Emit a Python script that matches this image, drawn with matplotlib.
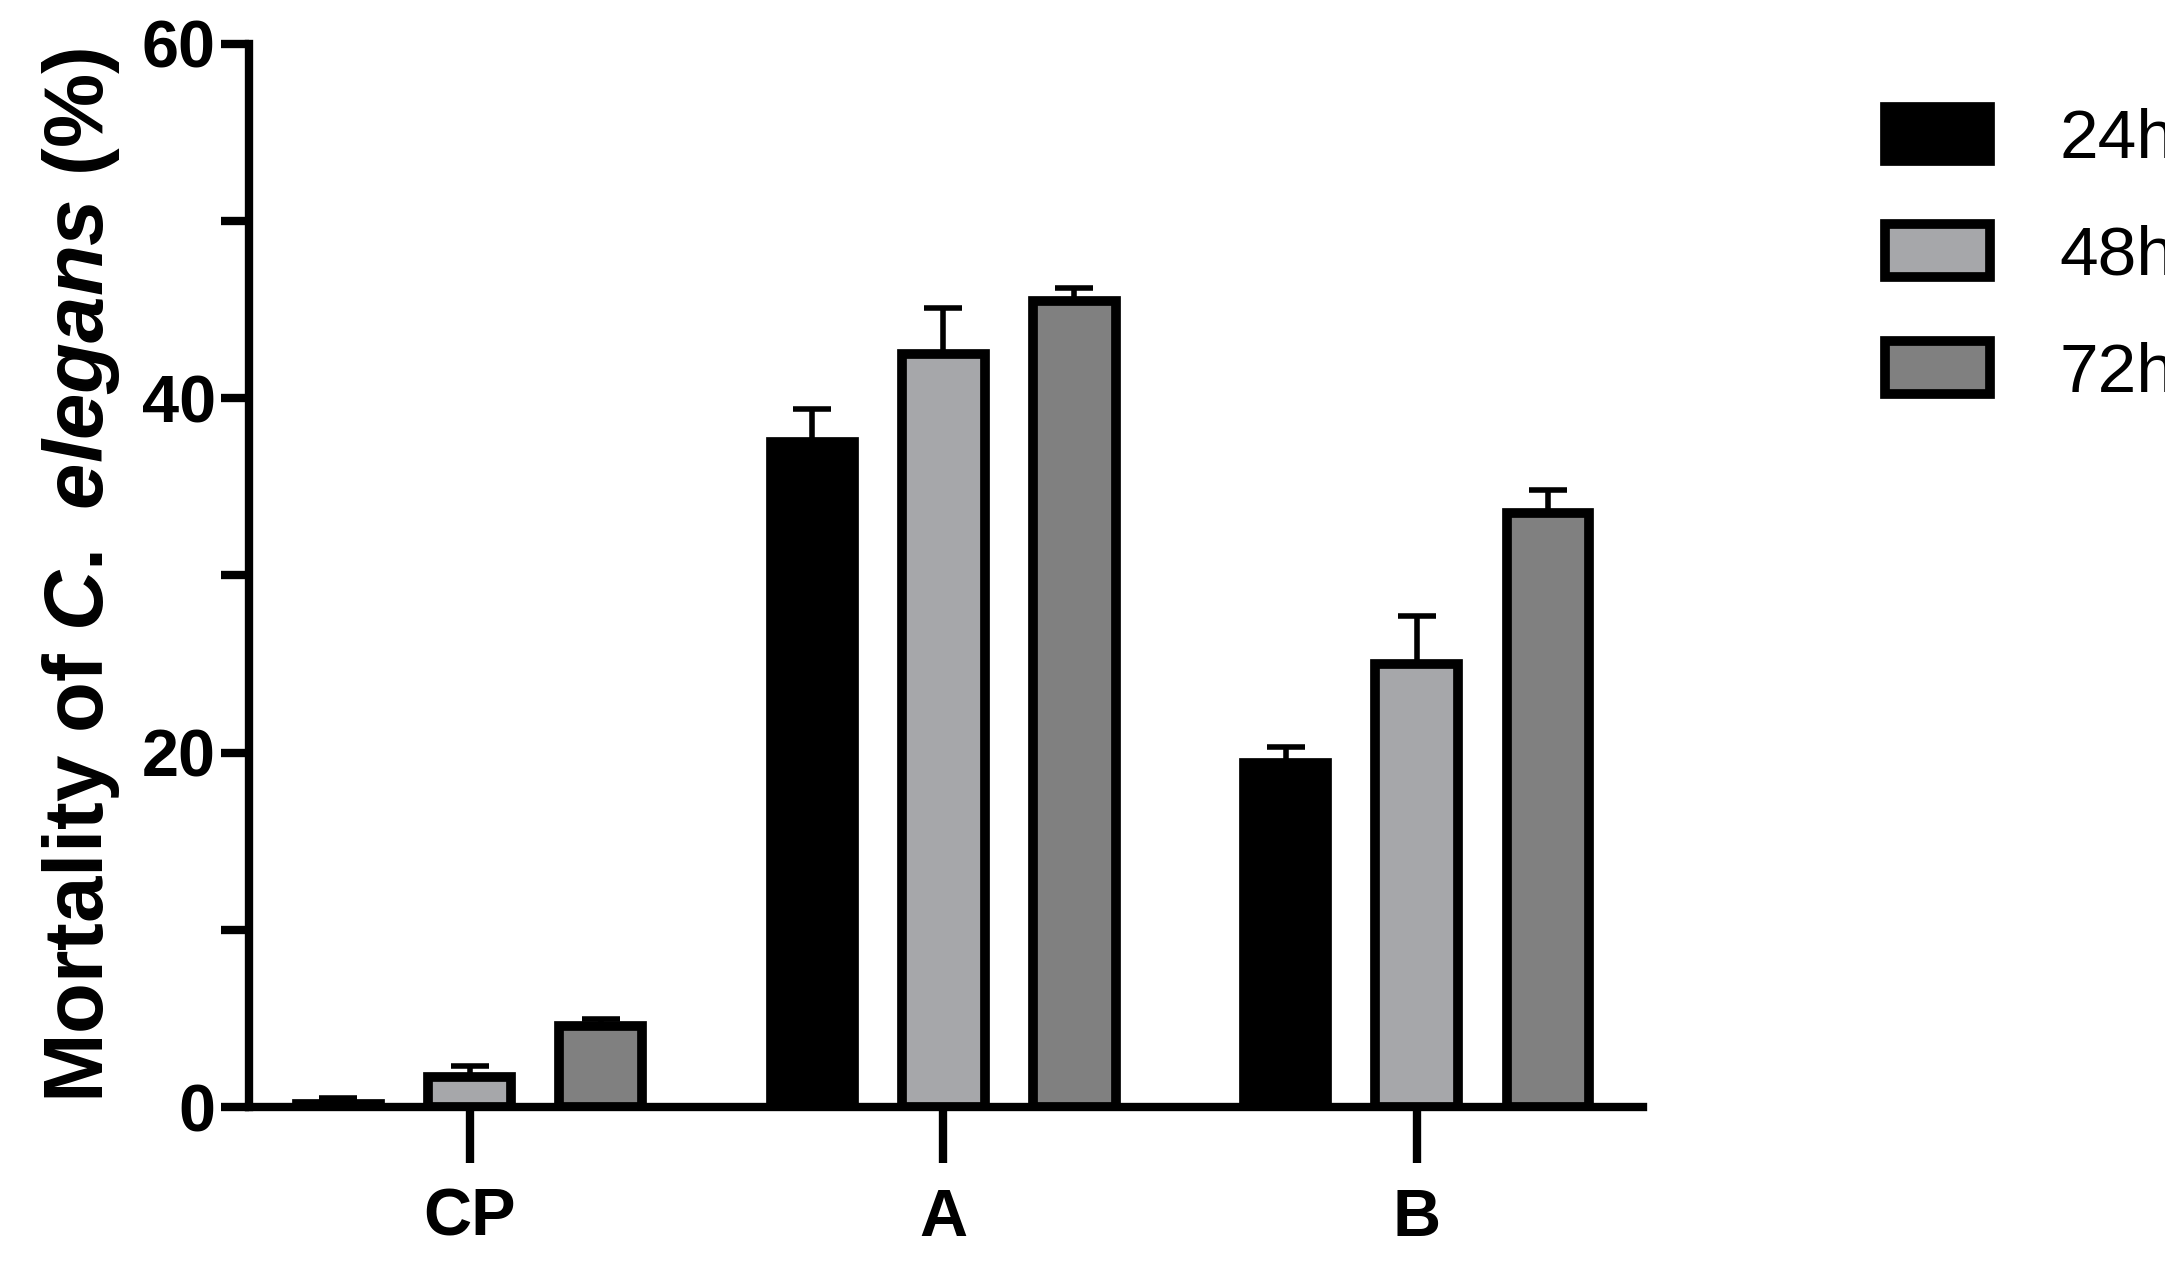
import numpy as np
import matplotlib
matplotlib.use("Agg")
import matplotlib.pyplot as plt
from matplotlib.patches import Patch

groups = ["CP", "A", "B"]
series = ["24h", "48h", "72h"]
means = {
    "24h": [0.2, 37.5, 19.4],
    "48h": [1.7, 42.5, 25.0],
    "72h": [4.6, 45.5, 33.5],
}
errs = {
    "24h": [0.3, 1.9, 0.9],
    "48h": [0.6, 2.6, 2.7],
    "72h": [0.4, 0.7, 1.3],
}
colors = {"24h": "#000000", "48h": "#a6a7aa", "72h": "#808080"}

plt.rcParams["font.family"] = ["Liberation Sans", "DejaVu Sans"]
plt.rcParams["mathtext.fontset"] = "custom"
plt.rcParams["mathtext.it"] = "Liberation Sans:bold:italic"
plt.rcParams["mathtext.rm"] = "Liberation Sans:bold"
plt.rcParams["mathtext.bf"] = "Liberation Sans:bold"

fig = plt.figure(figsize=(21.65, 12.83), dpi=100)
ax = fig.add_axes([0.115, 0.137, 0.644, 0.829])

x = np.arange(len(groups))
w = 0.175
offs = [-0.277, 0.0, 0.277]
for s, o in zip(series, offs):
    ax.bar(x + o, means[s], w, color=colors[s], edgecolor="black", linewidth=7, zorder=2)
    ax.errorbar(x + o, means[s], yerr=[np.zeros(3), errs[s]], fmt="none",
                ecolor="black", elinewidth=4, capsize=14, capthick=4, zorder=1)

ax.set_xlim(-0.466, 2.478)
ax.set_ylim(0, 60)
ax.set_yticks([0, 20, 40, 60])
ax.set_yticks([10, 30, 50], minor=True)
ax.set_xticks(x)
ax.set_xticklabels(groups, fontsize=48, fontweight="bold")
ax.set_yticklabels(["0", "20", "40", "60"], fontsize=48, fontweight="bold")
for sp in ["top", "right"]:
    ax.spines[sp].set_visible(False)
for sp in ["left", "bottom"]:
    ax.spines[sp].set_linewidth(6)
ax.tick_params(axis="y", which="major", length=20, width=6, pad=4)
ax.tick_params(axis="y", which="minor", length=20, width=6)
ax.tick_params(axis="x", length=40, width=6, pad=18)
ax.set_ylabel("Mortality of $C.$ $elegans$ (%)", fontsize=60, fontweight="bold", labelpad=14)

handles = [Patch(facecolor=colors[s], edgecolor="black", linewidth=7) for s in series]
fig.legend(handles, series, loc="upper left", bbox_to_anchor=(0.842, 0.965),
           frameon=False, fontsize=50, handlelength=1.5, handleheight=0.8,
           labelspacing=0.75, handletextpad=1.0)

fig.savefig("out.png", dpi=100)
